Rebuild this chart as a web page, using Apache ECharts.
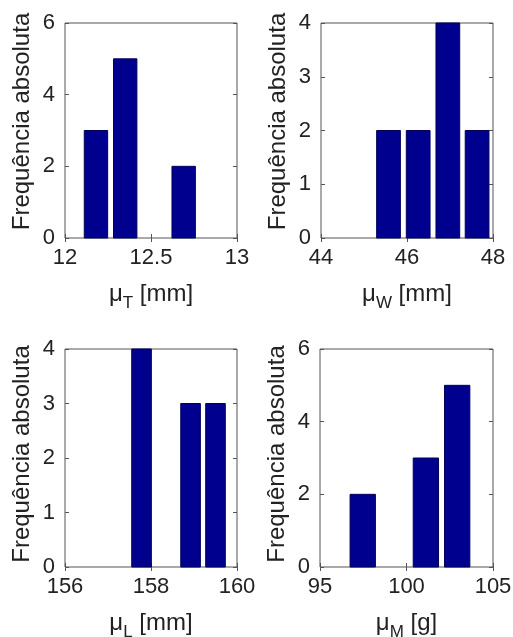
<!DOCTYPE html>
<html>
<head>
<meta charset="utf-8">
<script src="https://cdn.jsdelivr.net/npm/echarts@6/dist/echarts.min.js"></script>
<style>
html,body{margin:0;padding:0;background:#fff;}
#c{width:513px;height:637px;}
</style>
</head>
<body>
<div id="c"></div>
<script>
// Histogram data (bin centres and absolute frequencies)
const binsT = [12.18, 12.35, 12.52, 12.69];
const countsT = [3, 5, 0, 2];
const binsW = [45.57, 46.26, 46.95, 47.63];
const countsW = [2, 2, 4, 2];
const binsL = [157.78, 158.35, 158.92, 159.50];
const countsL = [4, 0, 3, 3];
const binsM = [97.47, 99.30, 101.12, 102.93];
const countsM = [2, 0, 3, 5];

// Axis ranges / tick intervals
const xRanges = [[12, 13, 0.5], [44, 48, 2], [156, 160, 2], [95, 105, 5]];
const yRanges = [[0, 6, 2], [0, 4, 1], [0, 4, 1], [0, 6, 2]];
const xTitles = [['μ', 'T', ' [mm]'], ['μ', 'W', ' [mm]'], ['μ', 'L', ' [mm]'], ['μ', 'M', ' [g]']];
const yTitle = 'Frequência absoluta';

const panels = [[binsT, countsT], [binsW, countsW], [binsL, countsL], [binsM, countsM]];

const FONT = 'Liberation Sans, Arial, sans-serif';
const grids = [
  {left: 65, top: 23, width: 172, height: 215},
  {left: 321, top: 23, width: 172, height: 215},
  {left: 65, top: 349, width: 172, height: 218},
  {left: 320, top: 349, width: 173, height: 218}
].map(g => Object.assign({show: true, borderColor: '#555', borderWidth: 1, backgroundColor: '#fff', outerBoundsMode: 'none', containLabel: false}, g));
const yTitleShift = [18, 18, 8, 8];

const xAxis = [], yAxis = [], series = [];
panels.forEach((p, i) => {
  const [xmin, xmax, xint] = xRanges[i];
  const [ymin, ymax, yint] = yRanges[i];
  const t = xTitles[i];
  xAxis.push({
    type: 'value', gridIndex: i, min: xmin, max: xmax, interval: xint,
    axisLine: {show: false},
    axisTick: {show: true, inside: true, length: 4, lineStyle: {color: '#555'}},
    splitLine: {show: false},
    axisLabel: {fontFamily: FONT, fontSize: 22, color: '#222', margin: 9},
    name: '{m|' + t[0] + '}{s|' + t[1] + '}{u|' + t[2] + '}',
    nameLocation: 'middle', nameGap: 44,
    nameTextStyle: {
      rich: {
        m: {fontFamily: FONT, fontSize: 24, color: '#222', verticalAlign: 'bottom'},
        s: {fontFamily: FONT, fontSize: 17, color: '#222', verticalAlign: 'bottom', padding: [0, 0, -6, 0]},
        u: {fontFamily: FONT, fontSize: 24, color: '#222', verticalAlign: 'bottom'}
      }
    }
  });
  xAxis.push({
    type: 'value', gridIndex: i, min: xmin, max: xmax, interval: xint, position: 'top',
    axisLine: {show: false}, axisLabel: {show: false}, splitLine: {show: false},
    axisTick: {show: true, inside: true, length: 4, lineStyle: {color: '#555'}}
  });
  yAxis.push({
    type: 'value', gridIndex: i, min: ymin, max: ymax, interval: yint,
    axisLine: {show: false},
    axisTick: {show: true, inside: true, length: 4, lineStyle: {color: '#555'}},
    splitLine: {show: false},
    axisLabel: {fontFamily: FONT, fontSize: 22, color: '#222', margin: 10},
    name: yTitle, nameLocation: 'middle', nameGap: 31,
    nameTextStyle: {fontFamily: FONT, fontSize: 24, color: '#222', padding: [0, 0, 0, yTitleShift[i]]}
  });
  yAxis.push({
    type: 'value', gridIndex: i, min: ymin, max: ymax, interval: yint, position: 'right',
    axisLine: {show: false}, axisLabel: {show: false}, splitLine: {show: false},
    axisTick: {show: true, inside: true, length: 4, lineStyle: {color: '#555'}}
  });
  const bins = p[0], counts = p[1];
  const bw = bins[1] - bins[0];
  series.push({
    type: 'custom', xAxisIndex: 2 * i, yAxisIndex: 2 * i,
    data: bins.map((b, k) => [b, counts[k], bw]),
    renderItem: function (params, api) {
      const x = api.value(0), y = api.value(1), w = api.value(2) * 0.8;
      if (!y) return null;
      const p0 = api.coord([x - w / 2, y]);
      const p1 = api.coord([x + w / 2, 0]);
      return {
        type: 'rect',
        shape: {x: p0[0], y: p0[1], width: p1[0] - p0[0], height: p1[1] - p0[1]},
        style: {fill: '#00008f', stroke: '#00005a', lineWidth: 1}
      };
    }
  });
});

const chart = echarts.init(document.getElementById('c'), null, {renderer: 'canvas'});
chart.setOption({
  backgroundColor: '#fff',
  animation: false,
  grid: grids,
  xAxis: xAxis,
  yAxis: yAxis,
  series: series
});
</script>
</body>
</html>
